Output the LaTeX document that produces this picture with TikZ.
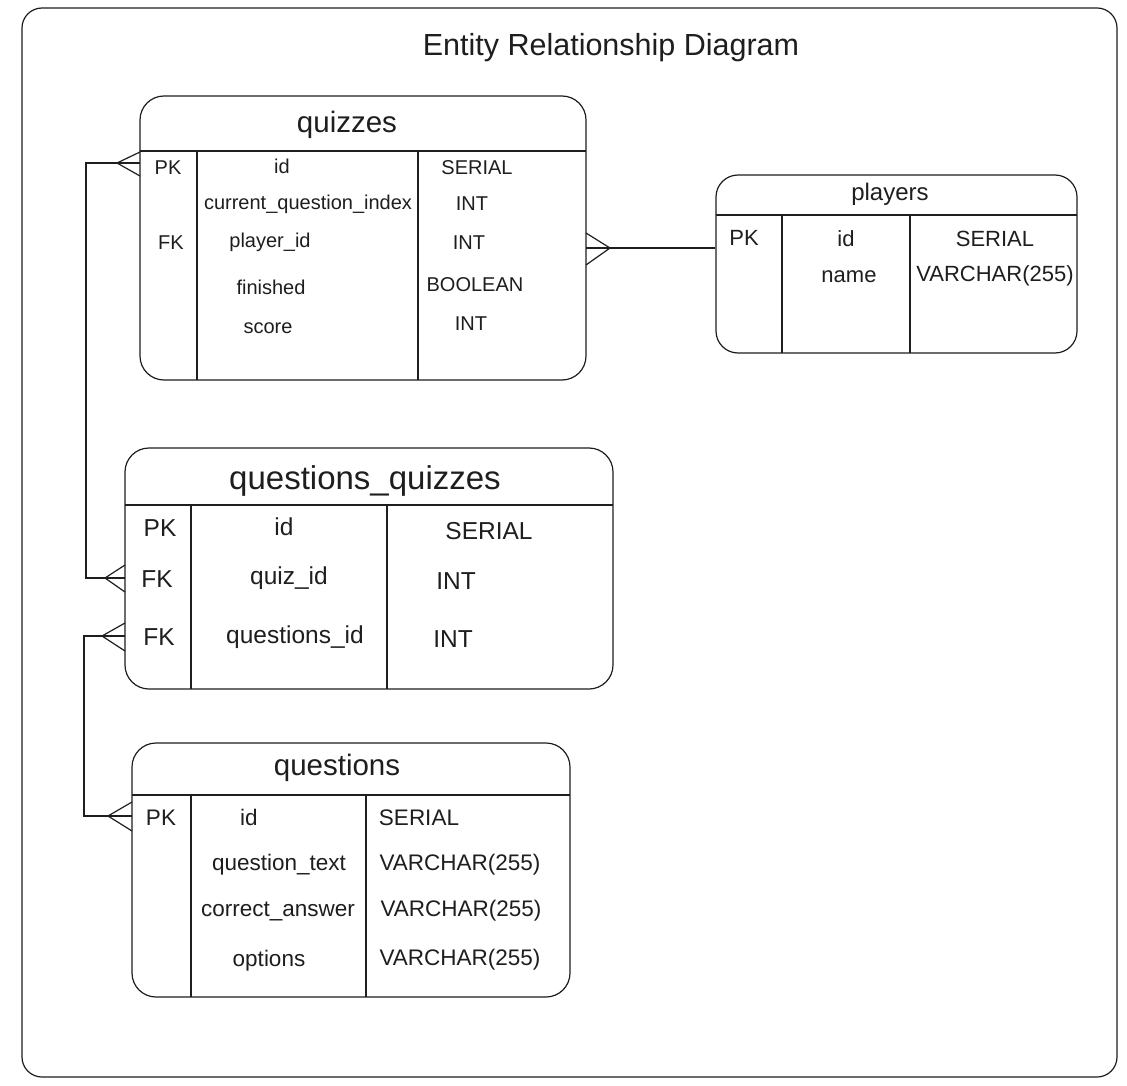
\documentclass[tikz,border=0pt]{standalone}
\usepackage{fontspec}
\setmainfont{Liberation Sans}
\definecolor{ink}{HTML}{1E1E1E}
\newcommand\setfs[1]{\fontsize{#1}{#1}\selectfont}
\begin{document}
\begin{tikzpicture}[x=1pt,y=-1pt,
  every path/.style={draw=ink, line width=1.2pt},
  tbl/.style={draw=ink, line width=1.2pt, rounded corners=24pt, inner sep=0pt},
  txt/.style={inner sep=0pt, text=ink, anchor=center},
  link/.style={draw=ink, line width=1.2pt}]
\useasboundingbox[fill=white, draw=none] (0,0) rectangle (1127,1086);
\draw[rounded corners=20pt] (22,8) rectangle (1117,1077);
\node[txt, font=\setfs{30.5}] (title) at (611,48) {Entity Relationship Diagram};

% ---------- quizzes ----------
\node[tbl, minimum width=446pt, minimum height=284pt] (quizzes) at (363,238) {};
\draw (140,151) -- (586,151);
\draw (197,151) -- (197,380);
\draw (418,151) -- (418,380);
\node[txt, font=\setfs{29.5}] (qz-title) at (347,125) {quizzes};
\begin{scope}[every node/.append style={font=\setfs{20}}]
\node[txt] (qz-pk) at (168,168) {PK};
\node[txt] (qz-id) at (282,166) {id};
\node[txt] (qz-idt) at (477,168) {SERIAL};
\node[txt] (qz-cqi) at (308,204) {current\_question\_index};
\node[txt] (qz-cqit) at (472,204) {INT};
\node[txt] (qz-fk) at (171,243) {FK};
\node[txt] (qz-pid) at (270,242) {player\_id};
\node[txt] (qz-pidt) at (469,243) {INT};
\node[txt] (qz-fin) at (271,287) {finished};
\node[txt] (qz-fint) at (475,285) {BOOLEAN};
\node[txt] (qz-sc) at (268,328) {score};
\node[txt] (qz-sct) at (471,324) {INT};
\end{scope}

% ---------- players ----------
\node[tbl, rounded corners=22pt, minimum width=361pt, minimum height=178pt] (players) at (896.5,264) {};
\draw (716,215) -- (1077,215);
\draw (782,215) -- (782,353);
\draw (910,215) -- (910,353);
\node[txt, font=\setfs{24}] (pl-title) at (890,194) {players};
\begin{scope}[every node/.append style={font=\setfs{22}}]
\node[txt] (pl-pk) at (744,238) {PK};
\node[txt] (pl-id) at (846,239) {id};
\node[txt] (pl-idt) at (995,239) {SERIAL};
\node[txt] (pl-name) at (849,277) {name};
\node[txt] (pl-namet) at (995,276) {VARCHAR(255)};
\end{scope}

% ---------- questions_quizzes ----------
\node[tbl, minimum width=488pt, minimum height=241pt] (qq) at (369,568.5) {};
\draw (125,505) -- (613,505);
\draw (191,505) -- (191,689);
\draw (387,505) -- (387,689);
\node[txt, font=\setfs{33}] (qq-title) at (365,481) {questions\_quizzes};
\begin{scope}[every node/.append style={font=\setfs{24.5}}]
\node[txt] (qq-pk) at (160,528) {PK};
\node[txt] (qq-id) at (284,527) {id};
\node[txt] (qq-idt) at (489,531) {SERIAL};
\node[txt] (qq-fk1) at (157,579) {FK};
\node[txt] (qq-qid) at (289,578) {quiz\_id};
\node[txt] (qq-qidt) at (456,581) {INT};
\node[txt] (qq-fk2) at (159,637) {FK};
\node[txt] (qq-qsid) at (295,637) {questions\_id};
\node[txt] (qq-qsidt) at (453,639) {INT};
\end{scope}

% ---------- questions ----------
\node[tbl, minimum width=438pt, minimum height=254pt] (questions) at (351,870) {};
\draw (132,795) -- (570,795);
\draw (191,795) -- (191,997);
\draw (366,795) -- (366,997);
\node[txt, font=\setfs{29.5}] (qs-title) at (337,768) {questions};
\begin{scope}[every node/.append style={font=\setfs{22.5}}]
\node[txt] (qs-pk) at (161,818) {PK};
\node[txt] (qs-id) at (249,817) {id};
\node[txt] (qs-idt) at (419,818) {SERIAL};
\node[txt] (qs-qt) at (279,865) {question\_text};
\node[txt] (qs-qtt) at (460,865) {VARCHAR(255)};
\node[txt] (qs-ca) at (278,911) {correct\_answer};
\node[txt] (qs-cat) at (461,911) {VARCHAR(255)};
\node[txt] (qs-op) at (269,961) {options};
\node[txt] (qs-opt) at (460,960) {VARCHAR(255)};
\end{scope}

% ---------- connectors ----------
% quizzes -- players
\coordinate (a1) at (610,248);
\coordinate (a1m) at (586,248);
\draw[link] (a1m) -- (players.west |- a1m);
\draw[link] (586,233) -- (a1) -- (586,265);
\draw[link] (a1) -- (a1m);

% quizzes -- questions_quizzes
\coordinate (b1) at (117,163);
\coordinate (b1m) at (140,163);
\coordinate (b2) at (105,578);
\coordinate (b2m) at (125,578);
\draw[link] (b1) -- (86,163) -- (86,578) -- (b2);
\draw[link] (140,152) -- (b1) -- (140,176);
\draw[link] (b1) -- (b1m);
\draw[link] (125,565) -- (b2) -- (125,592);
\draw[link] (b2) -- (b2m);

% questions_quizzes -- questions
\coordinate (c1) at (102,636);
\coordinate (c1m) at (125,636);
\coordinate (c2) at (108,816);
\coordinate (c2m) at (132,816);
\draw[link] (c1) -- (84,636) -- (84,816) -- (c2);
\draw[link] (125,623) -- (c1) -- (125,651);
\draw[link] (c1) -- (c1m);
\draw[link] (132,802) -- (c2) -- (132,831);
\draw[link] (c2) -- (c2m);
\end{tikzpicture}
\end{document}
